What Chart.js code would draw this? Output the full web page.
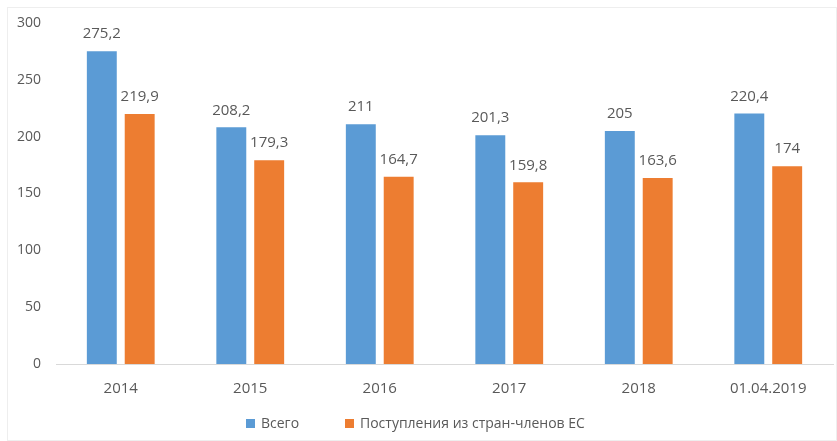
<!DOCTYPE html>
<html>
<head>
<meta charset="utf-8">
<script src="https://cdn.jsdelivr.net/npm/chart.js@4"></script>
<style>
  body { margin: 0; background: #fff; }
  #wrap { width: 837px; height: 441px; position: relative; }
  #legend { position: absolute; top: 413px; left: 0; height: 20px; font: 14px "Open Sans", "DejaVu Sans", sans-serif; color: #595959; }
  .item { position: absolute; top: 0; white-space: nowrap; line-height: 20px; display: flex; align-items: center; }
  .box { width: 9px; height: 9px; margin-right: 6px; }
</style>
</head>
<body>
<div id="wrap"><canvas id="chart"></canvas><div id="legend"></div></div>
<script>
const categories = ['2014', '2015', '2016', '2017', '2018', '01.04.2019'];
const totalValues = [275.2, 208.2, 211, 201.3, 205, 220.4];
const euValues = [219.9, 179.3, 164.7, 159.8, 163.6, 174];
const seriesNames = ['Всего', 'Поступления из стран-членов ЕС'];
const seriesColors = ['#5b9bd5', '#ed7d31'];

const textColor = '#595959';
const fontFamily = '"Open Sans", "DejaVu Sans", sans-serif';

// simple value labels above bars (no datalabels plugin available)
const valueLabels = {
    id: 'valueLabels',
    afterDatasetsDraw(chart) {
        const ctx = chart.ctx;
        ctx.save();
        ctx.font = '15px ' + fontFamily;
        ctx.fillStyle = textColor;
        ctx.textAlign = 'center';
        ctx.textBaseline = 'middle';
        chart.data.datasets.forEach((ds, i) => {
            chart.getDatasetMeta(i).data.forEach((bar, j) => {
                const txt = String(ds.data[j]).replace('.', ',');
                ctx.fillText(txt, bar.x, bar.y - 17);
            });
        });
        ctx.restore();
    }
};

const frame = {
    id: 'frame',
    beforeDraw(chart) {
        const ctx = chart.ctx;
        ctx.save();
        ctx.strokeStyle = '#eeeeee';
        ctx.lineWidth = 1;
        ctx.strokeRect(7.5, 7.5, chart.width - 8, chart.height - 8);
        ctx.restore();
    }
};

const chart = new Chart(document.getElementById('chart'), {
    type: 'bar',
    data: {
        labels: categories,
        datasets: [
            { label: seriesNames[0], data: totalValues, backgroundColor: seriesColors[0] },
            { label: seriesNames[1], data: euValues, backgroundColor: seriesColors[1] }
        ]
    },
    options: {
        responsive: true,
        maintainAspectRatio: false,
        animation: false,
        categoryPercentage: 0.585,
        barPercentage: 0.79,
        layout: { padding: { top: 23, right: 4, left: 0, bottom: 35 } },
        plugins: {
            legend: { display: false },
            tooltip: { enabled: false }
        },
        scales: {
            x: {
                grid: { display: false },
                border: { color: '#d9d9d9' },
                ticks: { color: textColor, font: { family: fontFamily, size: 15 }, padding: 8 }
            },
            y: {
                min: 0,
                max: 300,
                grid: { display: false },
                border: { display: false },
                ticks: { stepSize: 50, color: textColor, font: { family: fontFamily, size: 14 }, padding: 7 },
                afterFit(scale) { scale.width = 56; }
            }
        }
    },
    plugins: [valueLabels, frame]
});

// html legend, items placed like the original
const legendX = [246, 345];
const legend = document.getElementById('legend');
chart.data.datasets.forEach((ds, i) => {
    const item = document.createElement('div');
    item.className = 'item';
    item.style.left = legendX[i] + 'px';
    const box = document.createElement('span');
    box.className = 'box';
    box.style.background = ds.backgroundColor;
    item.appendChild(box);
    item.appendChild(document.createTextNode(ds.label));
    legend.appendChild(item);
});
</script>
</body>
</html>
